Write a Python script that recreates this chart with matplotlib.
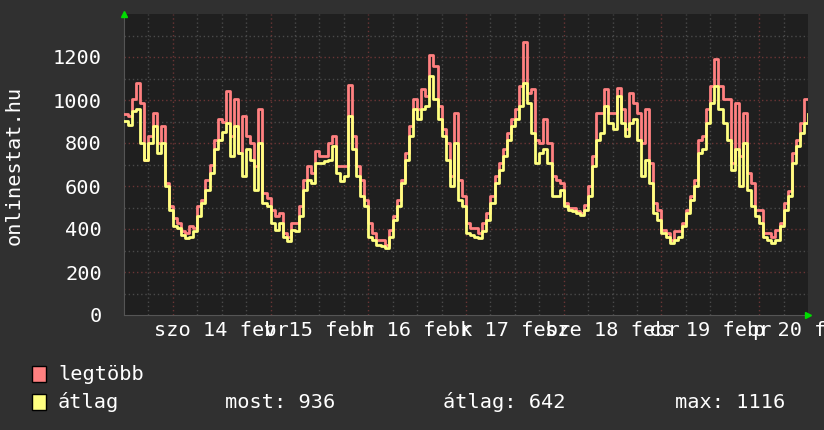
import matplotlib
matplotlib.use("Agg")
import matplotlib.pyplot as plt
import numpy as np

# hourly samples, starting Fri 13 Feb 12:00
legtobb = [933, 925, 1003, 1080, 987, 723, 832, 940, 800, 878, 614, 505,
           451, 428, 389, 381, 412, 404, 505, 536, 630, 700, 816, 910,
           900, 1042, 832, 1003, 754, 925, 832, 800, 692, 956, 568, 544,
           490, 459, 474, 381, 365, 428, 428, 505, 630, 692, 661, 762,
           739, 739, 800, 832, 692, 692, 692, 1070, 832, 692, 630, 536,
           428, 381, 350, 350, 327, 396, 459, 536, 630, 754, 878, 1003,
           956, 1050, 1019, 1210, 1158, 972, 863, 800, 645, 940, 630, 552,
           428, 404, 404, 381, 428, 474, 552, 645, 708, 770, 848, 910,
           956, 1065, 1270, 1034, 1050, 816, 800, 910, 800, 645, 630, 614,
           521, 498, 498, 482, 474, 513, 599, 739, 940, 940, 1050, 940,
           940, 1057, 956, 863, 1034, 987, 940, 800, 956, 708, 521, 490,
           396, 381, 350, 389, 389, 428, 490, 552, 630, 816, 832, 956,
           1065, 1190, 1065, 1003, 1003, 708, 987, 739, 940, 661, 614, 490,
           490, 381, 381, 365, 396, 428, 521, 575, 754, 816, 894, 1003,
           1003]
atlag = [902, 886, 948, 956, 800, 723, 800, 878, 754, 800, 599, 490,
         412, 404, 373, 358, 365, 389, 459, 521, 583, 661, 770, 816,
         850, 894, 739, 878, 754, 645, 770, 723, 583, 800, 521, 505,
         428, 396, 428, 365, 342, 396, 389, 459, 583, 630, 614, 708,
         708, 715, 723, 785, 661, 622, 645, 925, 770, 645, 552, 505,
         365, 350, 327, 319, 311, 365, 443, 505, 614, 723, 832, 956,
         910, 956, 972, 1112, 1003, 910, 832, 723, 599, 800, 536, 505,
         381, 373, 365, 358, 389, 443, 521, 614, 676, 739, 816, 878,
         910, 972, 1081, 987, 848, 708, 754, 770, 708, 552, 552, 583,
         505, 490, 482, 474, 467, 490, 552, 692, 816, 848, 972, 894,
         863, 1019, 894, 832, 894, 910, 816, 645, 723, 614, 474, 443,
         381, 365, 334, 350, 365, 412, 474, 536, 599, 754, 770, 894,
         987, 1065, 956, 894, 816, 676, 770, 599, 800, 583, 505, 459,
         428, 365, 350, 334, 350, 412, 490, 552, 708, 785, 848, 894,
         933]
day_labels = ["szo 14 febr", "v 15 febr", "h 16 febr", "k 17 febr",
              "sze 18 febr", "cs 19 febr", "p 20 febr"]
legend_labels = ["legtöbb", "átlag"]
stats = ["most: 936", "átlag: 642", "max: 1116"]

RED = "#ff8080"
YEL = "#ffff80"
MONO = "DejaVu Sans Mono"
FS = 14.6

hours = np.arange(len(atlag))

fig = plt.figure(figsize=(8.24, 4.30), dpi=100, facecolor="#303030")
ax = fig.add_axes([124 / 824, 1 - 315 / 430, 684 / 824, 301 / 430])
ax.set_facecolor("#1f1f1f")

# grid
for y in range(100, 1400, 100):
    c = "#6b3535" if y % 200 == 0 else "#4a4a4a"
    ax.axhline(y, color=c, lw=1, ls=(0, (1, 2)), zorder=1)
for h in range(6, 168, 6):
    c = "#6b3535" if h % 24 == 12 else "#4a4a4a"
    ax.axvline(h, color=c, lw=1, ls=(0, (1, 2)), zorder=1)

ax.plot(hours, legtobb, drawstyle="steps-post", color=RED, lw=2, zorder=3)
ax.plot(hours, atlag, drawstyle="steps-post", color=YEL, lw=2, zorder=4)

ax.set_xlim(0, 168)
ax.set_ylim(0, 1400)

ax.set_yticks(range(0, 1400, 200))
ax.set_yticklabels([str(v) for v in range(0, 1400, 200)])
ax.set_xticks([24 + 24 * i for i in range(len(day_labels))])
ax.set_xticklabels(day_labels)
ax.tick_params(axis="both", length=0, labelcolor="white", labelsize=FS)
ax.tick_params(axis="y", pad=16)
ax.tick_params(axis="x", pad=4)
for lbl in ax.get_xticklabels() + ax.get_yticklabels():
    lbl.set_family(MONO)

for s in ["top", "right"]:
    ax.spines[s].set_visible(False)
ax.spines["left"].set_color("#555555")
ax.spines["bottom"].set_color("#555555")

# axis arrows
ax.plot([0], [1.0], marker="^", color="#00dd00", ms=5, clip_on=False,
        transform=ax.transAxes, zorder=5)
ax.plot([1.0], [0], marker=">", color="#00dd00", ms=5, clip_on=False,
        transform=ax.transAxes, zorder=5)

fig.text(14 / 824, 1 - 165 / 430, "onlinestat.hu", rotation=90, color="white",
         family=MONO, fontsize=FS, ha="center", va="center")

# legend
for i, (lab, col) in enumerate(zip(legend_labels, [RED, YEL])):
    yc = 1 - (374 + 28 * i) / 430
    fig.patches.append(plt.Rectangle((32 / 824, yc - 8 / 430), 14 / 824, 16 / 430,
                                     transform=fig.transFigure, facecolor=col,
                                     edgecolor="black", lw=1))
    fig.text(58 / 824, yc, lab, color="white", family=MONO, fontsize=FS,
             va="center")

for xs, t in zip([225, 443, 675], stats):
    fig.text(xs / 824, 1 - 402 / 430, t, color="white", family=MONO,
             fontsize=FS, va="center")

fig.savefig("out.png", dpi=100, facecolor=fig.get_facecolor())
